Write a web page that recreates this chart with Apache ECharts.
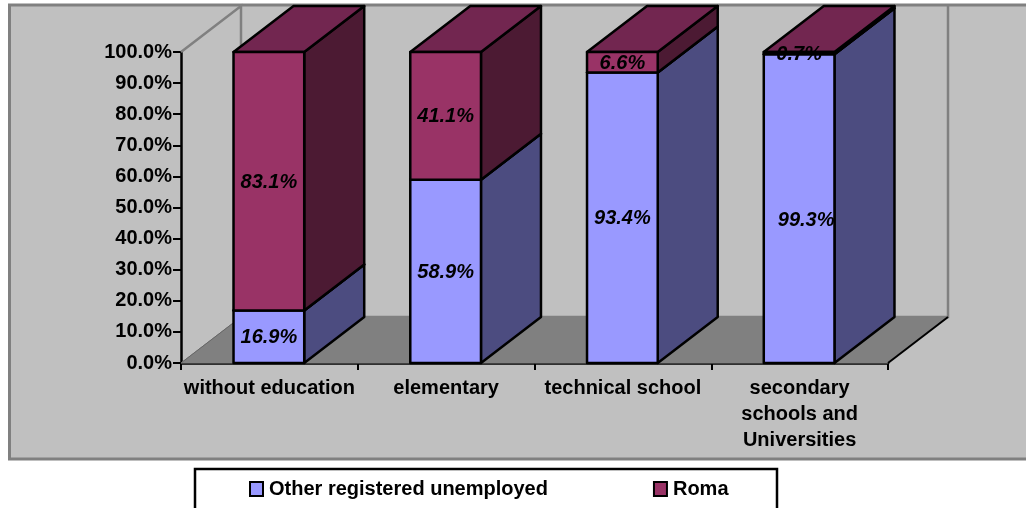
<!DOCTYPE html>
<html><head><meta charset="utf-8">
<style>html,body{margin:0;padding:0;background:#fff}#c{width:1026px;height:508px}</style>
<script src="https://cdn.jsdelivr.net/npm/echarts@6/dist/echarts.min.js"></script>
</head><body><div id="c"></div>
<script>
const categories = ['without education', 'elementary', 'technical school', 'secondary\nschools and\nUniversities'];
const otherValues = [16.9, 58.9, 93.4, 99.3];
const romaValues = [83.1, 41.1, 6.6, 0.7];

const DX = 60, DY = -46;
const FONT = '"Liberation Sans", Arial, sans-serif';
const LABEL_NUDGE = { other: { 3: [7, 11] } };

function segmentRenderer(values, bases, front, side, top, key) {
  return function (params, api) {
    const i = params.dataIndex;
    const band = api.size([1, 0])[0];
    const w = band * 0.4;
    const cx = api.coord([i, 0])[0] - 0.5;
    const yb = api.coord([i, bases[i]])[1];
    const yt = api.coord([i, bases[i] + values[i]])[1];
    const xl = cx - w / 2, xr = cx + w / 2;
    const ls = { stroke: '#000', lineWidth: 2.5, lineJoin: 'round' };
    const n = (LABEL_NUDGE[key] && LABEL_NUDGE[key][i]) || [0, 0];
    return {
      type: 'group',
      children: [
        { type: 'polygon', shape: { points: [[xr, yb], [xr + DX, yb + DY], [xr + DX, yt + DY], [xr, yt]] }, style: Object.assign({ fill: side }, ls) },
        { type: 'polygon', shape: { points: [[xl, yt], [xr, yt], [xr + DX, yt + DY], [xl + DX, yt + DY]] }, style: Object.assign({ fill: top }, ls) },
        { type: 'rect', shape: { x: xl, y: yt, width: w, height: yb - yt }, style: Object.assign({ fill: front }, ls) },
        { type: 'text', z2: 10, style: { x: cx + n[0], y: (yt + yb) / 2 + n[1] + 1, text: values[i].toFixed(1) + '%', align: 'center', verticalAlign: 'middle', fill: '#000', font: 'italic bold 20px ' + FONT } }
      ]
    };
  };
}

function wallRenderer(params, api) {
  const band = api.size([1, 0])[0];
  const x0 = api.coord([0, 0])[0] - band / 2;
  const x1 = api.coord([categories.length - 1, 0])[0] + band / 2;
  const y0 = api.coord([0, 0])[1];
  const y1 = api.coord([0, 100])[1];
  return {
    type: 'group',
    children: [
      { type: 'polygon', shape: { points: [[x0, y0], [x1, y0], [x1 + DX, y0 + DY], [x0 + DX, y0 + DY]] }, style: { fill: '#808080', stroke: '#808080', lineWidth: 1 } },
      { type: 'polyline', shape: { points: [[x0, y1], [x0 + DX, y1 + DY], [x0 + DX, y0 + DY], [x1 + DX, y0 + DY], [x1 + DX, y1 + DY]] }, style: { fill: 'none', stroke: '#808080', lineWidth: 2.5 } },
      { type: 'line', shape: { x1: x0, y1: y0, x2: x0 + DX, y2: y0 + DY }, style: { stroke: '#666', lineWidth: 1 } },
      { type: 'line', shape: { x1: x1, y1: y0, x2: x1 + DX, y2: y0 + DY }, style: { stroke: '#000', lineWidth: 2 } }
    ]
  };
}

const chart = echarts.init(document.getElementById('c'), null, { renderer: 'canvas' });
chart.setOption({
  animation: false,
  backgroundColor: '#ffffff',
  textStyle: { fontFamily: FONT },
  graphic: [
    { type: 'rect', z: -10, silent: true, shape: { x: 9.5, y: 5, width: 1040, height: 454 }, style: { fill: '#c0c0c0', stroke: '#808080', lineWidth: 3 } },
    { type: 'rect', z: -10, silent: true, shape: { x: 195, y: 469, width: 582, height: 60 }, style: { fill: '#ffffff', stroke: '#000000', lineWidth: 2.5 } }
  ],
  grid: { left: 181, right: 138, top: 52, bottom: 145 },
  legend: {
    data: ['Other registered unemployed', 'Roma'],
    left: 249, top: 479, orient: 'horizontal',
    itemWidth: 13, itemHeight: 14, itemGap: 105, icon: 'rect',
    itemStyle: { borderColor: '#000', borderWidth: 2 },
    textStyle: { color: '#000', fontFamily: FONT, fontWeight: 'bold', fontSize: 20, padding: [0, 0, 0, 1] },
    selectedMode: false, padding: 0
  },
  xAxis: {
    type: 'category', data: categories,
    axisLine: { lineStyle: { color: '#000', width: 2.5 } },
    axisTick: { show: true, length: 7, lineStyle: { color: '#000', width: 2 } },
    axisLabel: { color: '#000', fontFamily: FONT, fontWeight: 'bold', fontSize: 20, lineHeight: 26, margin: 12, interval: 0 }
  },
  yAxis: {
    type: 'value', min: 0, max: 100, interval: 10,
    splitLine: { show: false },
    axisLine: { show: true, lineStyle: { color: '#000', width: 2.5 } },
    axisTick: { show: true, length: 8, lineStyle: { color: '#000', width: 2 } },
    axisLabel: { color: '#000', fontFamily: FONT, fontWeight: 'bold', fontSize: 20, margin: 9, padding: [2, 0, 0, 0], formatter: v => v.toFixed(1) + '%' }
  },
  series: [
    { name: 'wall', type: 'custom', z: 1, silent: true, renderItem: wallRenderer, data: [0], encode: { x: 0 }, clip: false },
    { name: 'Other registered unemployed', type: 'custom', z: 3, itemStyle: { color: '#9999ff' },
      renderItem: segmentRenderer(otherValues, otherValues.map(() => 0), '#9999ff', '#4c4c80', '#6e6ec0', 'other'),
      data: otherValues, encode: { y: 0 }, clip: false },
    { name: 'Roma', type: 'custom', z: 4, itemStyle: { color: '#993366' },
      renderItem: segmentRenderer(romaValues, otherValues, '#993366', '#4c1a33', '#722650', 'roma'),
      data: romaValues, encode: { y: 0 }, clip: false }
  ]
});
</script></body></html>
